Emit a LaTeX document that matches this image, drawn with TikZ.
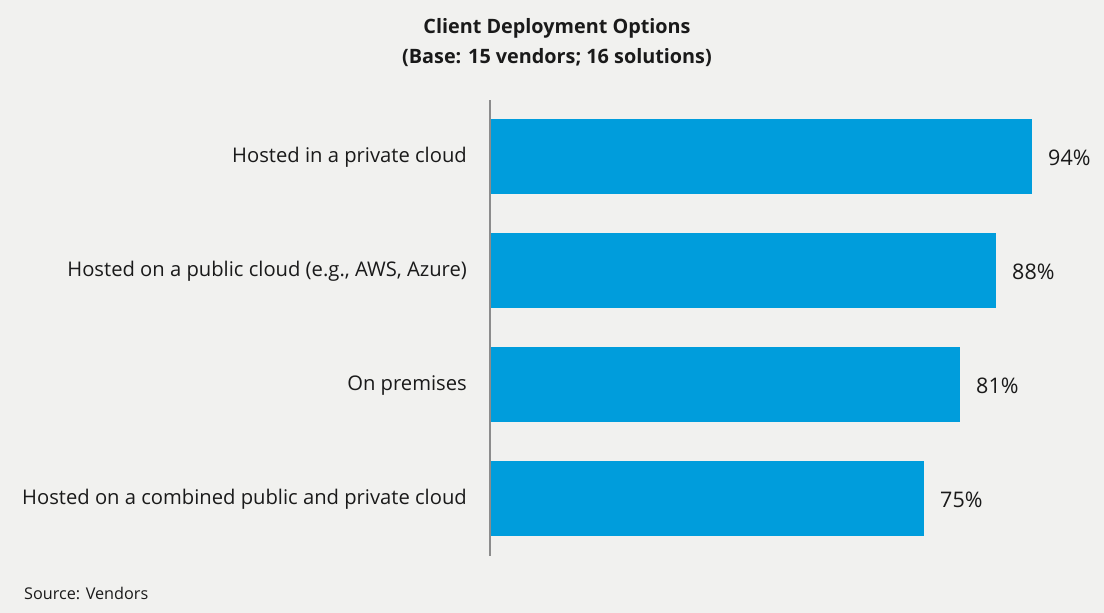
\documentclass[tikz,border=0pt]{standalone}
\usepackage{fontspec}
\setmainfont{Open Sans}
\definecolor{bg}{HTML}{F1F1EF}
\definecolor{barblue}{HTML}{009DDC}
\definecolor{axisgray}{HTML}{8C8C8C}
\definecolor{txt}{HTML}{1A1A1A}
\begin{document}
\begin{tikzpicture}[x=1pt,y=-1pt,
  bar/.style={fill=barblue,draw=none},
  cat/.style={anchor=east,inner sep=0pt,text=txt,font=\fontsize{20.2}{24}\selectfont},
  val/.style={anchor=west,inner sep=0pt,text=txt,font=\fontsize{21.5}{24}\selectfont},
  ttl/.style={inner sep=0pt,text=txt,font=\bfseries\fontsize{19.8}{24}\selectfont}]
\fill[bg] (0,0) rectangle (1104,613);
\useasboundingbox (0,0) rectangle (1104,613);
\node[ttl] (t1) at (557,28.5) {Client Deployment Options};
\node[ttl] (t2) at (557,57.5) {(Base: 15 vendors; 16 solutions)};
\foreach \i/\w/\y/\lab/\p in {1/1032/119/Hosted in a private cloud/94\%,
  2/996/233/{Hosted on a public cloud (e.g., AWS, Azure)}/88\%,
  3/960/347/On premises/81\%,
  4/924/461/Hosted on a combined public and private cloud/75\%}{
  \path[bar] (490,\y) rectangle (\w,\y+75);
  \node[cat] (c\i) at (467,\y+38.5) {\lab};
  \node[val] (v\i) at (\w+16,\y+38.5) {\p};
}
\coordinate (atop) at (489.5,100);
\coordinate (abot) at (489.5,556);
\draw[axisgray,line width=2pt] (atop) -- (abot);
\node[anchor=west,inner sep=0pt,text=txt,font=\fontsize{16.2}{19}\selectfont] (src) at (24,593) {Source: Vendors};
\end{tikzpicture}
\end{document}
